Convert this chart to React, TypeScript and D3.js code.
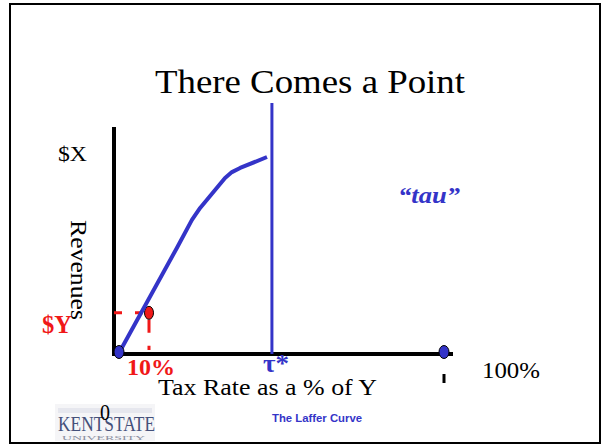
import React from "react";
import * as d3 from "d3";

// Laffer curve: tax rate (%) against revenue (index, $X = 100)
const taxRates = [0, 18.5, 23.1, 25.6, 33.2, 35.3, 37.8, 46];
const revenues = [0, 53.6, 67.9, 74, 89.3, 92.3, 94.4, 100];
const tauStar = 47.5;
const pointY = { rate: 10, revenue: 20.5 };
const endpoints = [0, 100];
const xTickLabels = ["10%", "100%"];
const yTickLabels = ["$X", "$Y"];

const W = 605;
const H = 446;
const BLUE = "#3434c8";
const RED = "#f01818";

export default function App() {
  // piecewise axis: the first 10% is drawn slightly compressed
  const x = d3.scaleLinear().domain([0, 10, 100]).range([119, 149, 444]);
  const y = d3.scaleLinear().domain([0, 100]).range([353, 157]);

  const pts: [number, number][] = taxRates.map((r, i) => [r, revenues[i]]);
  const line = d3
    .line<[number, number]>()
    .x((d) => x(d[0]))
    .y((d) => y(d[1]));

  const serif = "'Liberation Serif', 'Times New Roman', serif";
  const sans = "'Liberation Sans', Arial, sans-serif";
  const fit = { lengthAdjust: "spacingAndGlyphs" as const };

  const px = x(pointY.rate);
  const py = y(pointY.revenue);

  return (
    <svg
      width={W}
      height={H}
      style={{ position: "absolute", left: 0, top: 0, background: "#fff" }}
    >
      {/* frame */}
      <rect x={10} y={4} width={590} height={439} fill="#fff" stroke="#000" strokeWidth={2} />

      <text x={155} y={93} fontFamily={serif} fontSize={33} fill="#000" textLength={310} {...fit}>
        There Comes a Point
      </text>

      {/* axes */}
      <line x1={114} x2={114} y1={127} y2={356} stroke="#000" strokeWidth={4} />
      <line x1={112} x2={453} y1={354} y2={354} stroke="#000" strokeWidth={4} />

      {/* tau* vertical */}
      <line x1={x(tauStar)} x2={x(tauStar)} y1={103} y2={354} stroke={BLUE} strokeWidth={3} />

      {/* dashed guides to the 10% point */}
      <line x1={114} x2={px} y1={py} y2={py} stroke={RED} strokeWidth={3} strokeDasharray="8 13" />
      <line x1={px} x2={px} y1={py + 7} y2={350} stroke={RED} strokeWidth={3} strokeDasharray="13 13" />
      <ellipse cx={px} cy={py} rx={4.5} ry={6.5} fill={RED} stroke="#000" strokeWidth={1} />

      {/* revenue curve */}
      <path d={line(pts) || ""} fill="none" stroke={BLUE} strokeWidth={4} strokeLinejoin="round" />

      {/* endpoints on the axis */}
      {endpoints.map((e) => (
        <ellipse key={e} cx={x(e)} cy={352} rx={5} ry={6.5} fill={BLUE} stroke="#000" strokeWidth={1} />
      ))}
      <line x1={x(100)} x2={x(100)} y1={374} y2={383} stroke="#000" strokeWidth={3} />

      {/* labels */}
      <text x={58} y={161} fontFamily={serif} fontSize={22} fill="#000" textLength={29} {...fit}>
        {yTickLabels[0]}
      </text>
      <text x={42} y={333} fontFamily={serif} fontSize={25} fontWeight="bold" fill={RED} textLength={30} {...fit}>
        {yTickLabels[1]}
      </text>
      <text
        transform="translate(71,220) rotate(90)"
        fontFamily={serif}
        fontSize={24}
        fill="#000"
        textLength={100}
        {...fit}
      >
        Revenues
      </text>
      <text x={127} y={375} fontFamily={serif} fontSize={24} fontWeight="bold" fill={RED} textLength={48} {...fit}>
        {xTickLabels[0]}
      </text>
      <text x={263} y={372} fontFamily={serif} fontSize={25} fontWeight="bold" fill={BLUE} textLength={26} {...fit}>
        τ*
      </text>
      <text x={482} y={378} fontFamily={serif} fontSize={23} fill="#000" textLength={58} {...fit}>
        {xTickLabels[1]}
      </text>
      <text x={158} y={395} fontFamily={serif} fontSize={23} fill="#000" textLength={219} {...fit}>
        Tax Rate as a % of Y
      </text>
      <text
        x={398}
        y={203}
        fontFamily={serif}
        fontSize={24}
        fontWeight="bold"
        fontStyle="italic"
        fill={BLUE}
        textLength={62}
        {...fit}
      >
        “tau”
      </text>

      {/* footer */}
      <rect x={55} y={404} width={100} height={37} fill="#f5f5f7" />
      <rect x={58} y={408} width={94} height={5} fill="#e6e7ee" />
      <text x={58} y={431} fontFamily={serif} fontSize={20} fill="#44507a" textLength={97} {...fit}>
        KENTSTATE
      </text>
      <text x={62} y={440} fontFamily={serif} fontSize={5.5} fill="#8a8ea0" textLength={83} {...fit}>
        UNIVERSITY
      </text>
      <text x={100} y={420} fontFamily={serif} fontSize={23} fill="#000" textLength={10} {...fit}>
        0
      </text>
      <text x={272} y={422} fontFamily={sans} fontSize={11} fontWeight="bold" fill={BLUE} textLength={90} {...fit}>
        The Laffer Curve
      </text>
    </svg>
  );
}
